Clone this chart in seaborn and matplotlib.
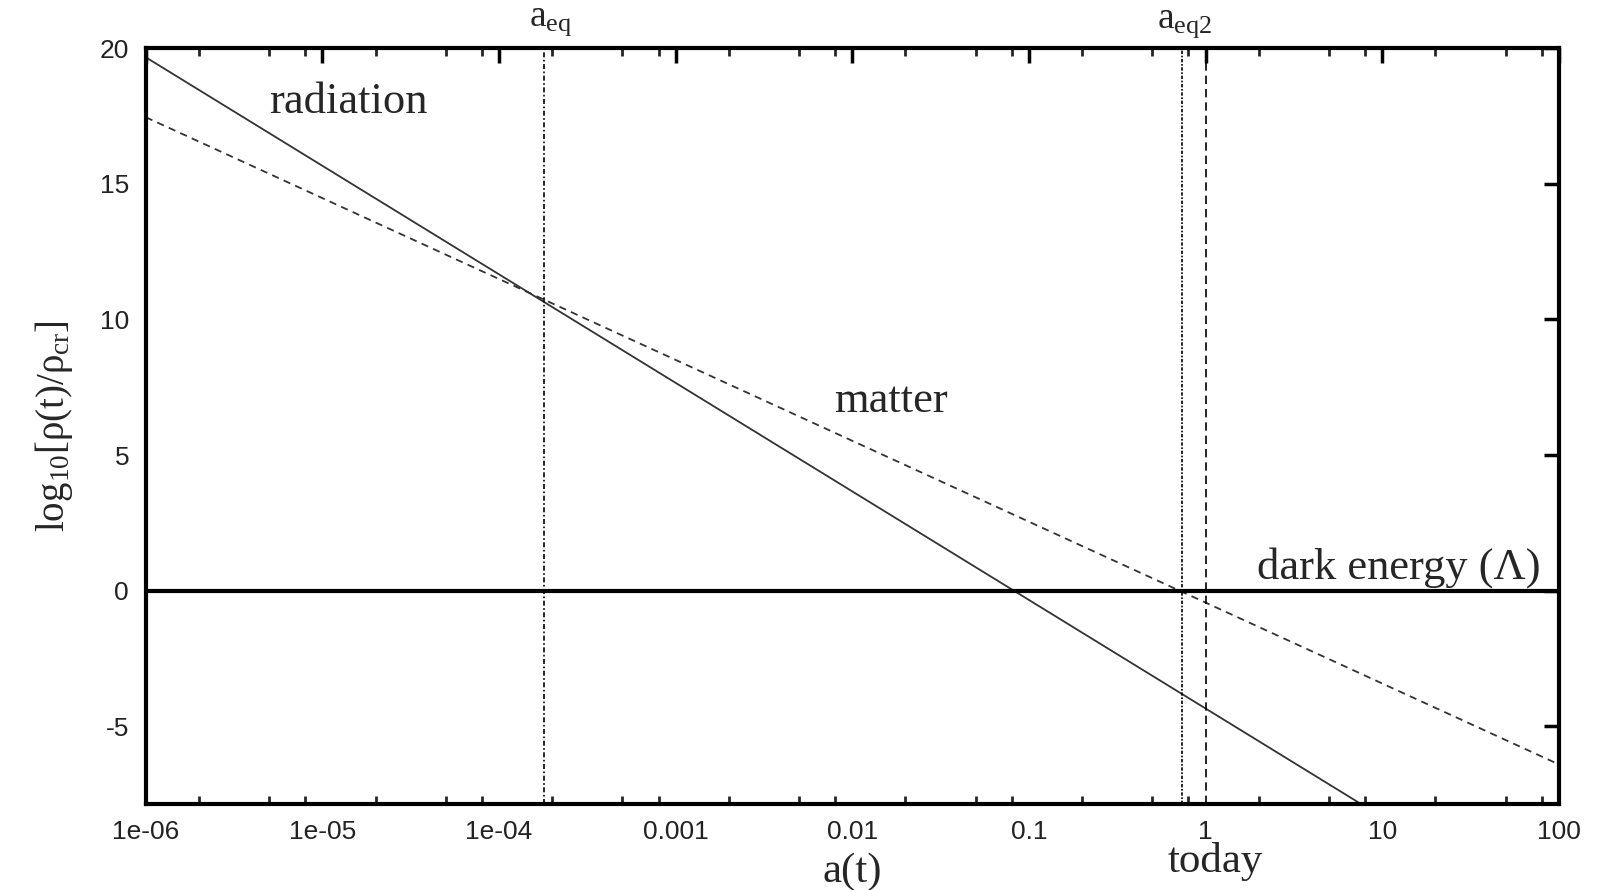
import numpy as np
import pandas as pd
import matplotlib
matplotlib.use("Agg")
import matplotlib.pyplot as plt
import matplotlib.ticker as mticker
import seaborn as sns

# ---- data ----
a_ends = [1e-6, 100.0]
radiation_log = [19.66, -12.34]
matter_log = [17.45, -6.40]
dark_energy_log = [0.0, 0.0]
vline_names = ["a_eq", "a_eq2", "today"]
vline_pos = [1.8e-4, 0.74, 1.0]
x_ticks = [1e-6, 1e-5, 1e-4, 1e-3, 1e-2, 1e-1, 1, 10, 100]
x_ticklabels = ["1e-06", "1e-05", "1e-04", "0.001", "0.01", "0.1", "1", "10", "100"]
y_ticks = [-5, 0, 5, 10, 15, 20]

sns.set_style("white")
plt.rcParams["font.family"] = ["Liberation Sans", "DejaVu Sans"]
plt.rcParams["mathtext.fontset"] = "custom"
plt.rcParams["mathtext.rm"] = "Liberation Serif"
plt.rcParams["mathtext.it"] = "Liberation Serif:italic"

fig = plt.figure(figsize=(16.02, 8.9), dpi=100)
ax = fig.add_axes([0.091, 0.097, 0.882, 0.849])

df = pd.DataFrame({
    "a": a_ends * 3,
    "logrho": radiation_log + matter_log + dark_energy_log,
    "comp": ["radiation"] * 2 + ["matter"] * 2 + ["dark"] * 2,
})

sns.lineplot(data=df[df.comp == "radiation"], x="a", y="logrho", ax=ax,
             color="#333333", lw=1.3, legend=False)
sns.lineplot(data=df[df.comp == "matter"], x="a", y="logrho", ax=ax,
             color="#333333", lw=1.3, legend=False, dashes=False)
ax.lines[-1].set_linestyle((0, (4, 3)))
sns.lineplot(data=df[df.comp == "dark"], x="a", y="logrho", ax=ax,
             color="black", lw=3, legend=False)

styles = [(0, (3, 1.5, 1, 1.5)), (0, (2, 1, 1, 1)), (0, (5, 3))]
for pos, st in zip(vline_pos, styles):
    ax.axvline(pos, color="black", lw=1.2, ls=st)

ax.set_xscale("log")
ax.set_xlim(1e-6, 100)
ax.set_ylim(-7.85, 20)
ax.set_xticks(x_ticks)
ax.set_xticklabels(x_ticklabels)
ax.xaxis.set_minor_locator(mticker.LogLocator(base=10, subs=[2, 5, 8], numticks=50))
ax.xaxis.set_minor_formatter(mticker.NullFormatter())
ax.set_yticks(y_ticks)
ax.set_yticklabels([str(v) for v in y_ticks])

ax.tick_params(axis="both", which="major", direction="in", length=11, width=2.5,
               top=True, right=True, labelsize=19, pad=12, colors="black",
               labelcolor="#222222")
ax.tick_params(axis="x", which="minor", direction="in", length=6, width=2,
               top=True, bottom=True)
for sp in ax.spines.values():
    sp.set_linewidth(3)
    sp.set_color("black")

serif = ["Liberation Serif", "DejaVu Serif"]
ax.set_xlabel("a(t)", fontsize=31, family=serif, labelpad=6)
ax.set_ylabel(r"log$_{10}$[ρ(t)/ρ$_{\mathrm{cr}}$]", fontsize=28, family=serif, labelpad=18)

ax.text(1.4e-5, 18.0, "radiation", fontsize=32, family=serif, ha="center", va="center")
ax.text(0.0166, 7.0, "matter", fontsize=32, family=serif, ha="center", va="center")
ax.text(79, 0.85, "dark energy (Λ)", fontsize=32, family=serif, ha="right", va="center")

trans = ax.get_xaxis_transform()
ax.text(1.95e-4, 1.036, r"a$_{\mathrm{eq}}$", fontsize=27, family=serif,
        ha="center", va="center", transform=trans)
ax.text(0.76, 1.034, r"a$_{\mathrm{eq2}}$", fontsize=27, family=serif,
        ha="center", va="center", transform=trans)
ax.text(1.14, -0.076, "today", fontsize=31, family=serif,
        ha="center", va="center", transform=trans)

ax.set_facecolor("white")
fig.patch.set_facecolor("white")
fig.savefig("out.png", dpi=100)
